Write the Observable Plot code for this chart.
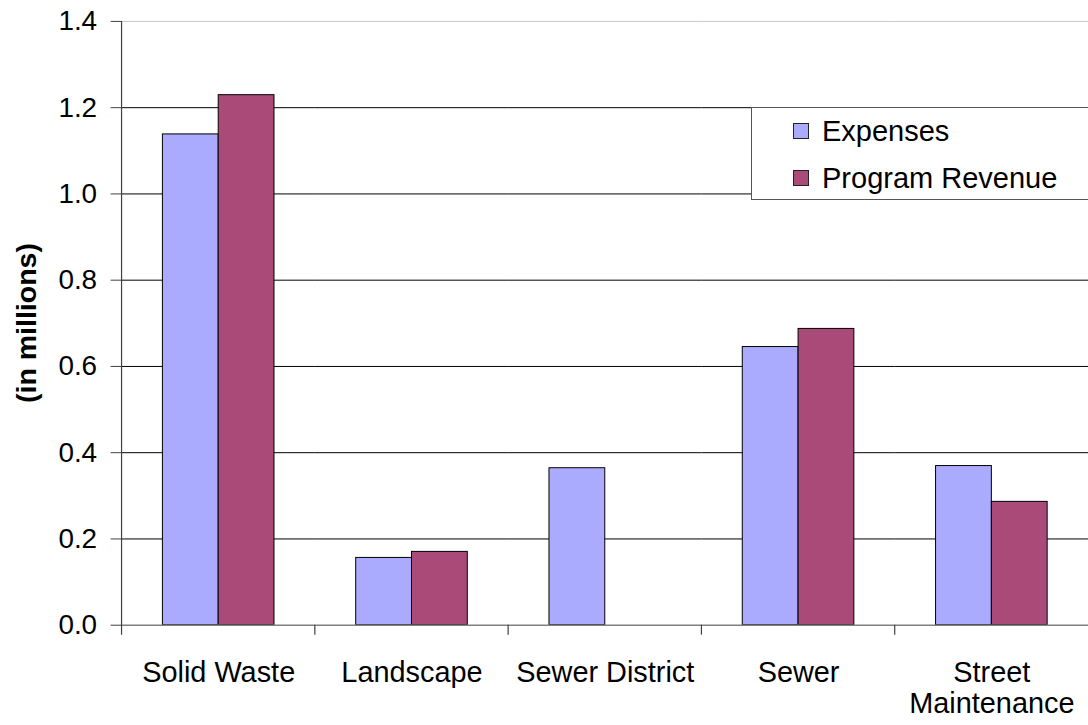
<!DOCTYPE html>
<html>
<head>
<meta charset="utf-8">
<script src="https://cdn.jsdelivr.net/npm/d3@7"></script>
<script src="https://cdn.jsdelivr.net/npm/@observablehq/plot@0.6"></script>
<style>
  html, body { margin: 0; padding: 0; background: #fff; overflow: hidden; }
  #wrap { position: relative; width: 1088px; height: 725px; overflow: hidden; font-family: "Liberation Sans", Arial, sans-serif; }
  #ylabel { position: absolute; left: 26px; top: 323px; transform: translate(-50%, -50%) rotate(-90deg); font-weight: bold; font-size: 28.5px; white-space: nowrap; color: #000; }
  #legend { position: absolute; left: 751px; top: 107px; width: 400px; height: 93px; border: 1px solid #555; background: #fff; box-sizing: border-box; }
  .item { position: absolute; left: 41px; font-size: 29px; line-height: 29px; white-space: nowrap; color: #000; }
  .sw { position: absolute; left: 0; width: 16px; height: 16px; box-sizing: border-box; border: 1px solid #222; }
  .lt { position: absolute; left: 29px; top: 0; }
</style>
</head>
<body>
<div id="wrap">
  <div id="chart"></div>
  <div id="ylabel">(in millions)</div>
  <div id="legend"></div>
</div>
<script>
// ---- data ----
const categories = ["Solid Waste", "Landscape", "Sewer District", "Sewer", "Street Maintenance"];
const xTickLabels = ["Solid Waste", "Landscape", "Sewer District", "Sewer", "Street\nMaintenance"];
const seriesNames = ["Expenses", "Program Revenue"];
const seriesColors = ["#aaaaff", "#aa4a78"];
const expenses = [1.138, 0.156, 0.364, 0.645, 0.369];
const programRevenue = [1.229, 0.170, 0, 0.687, 0.286];
const yTicks = [0, 0.2, 0.4, 0.6, 0.8, 1.0, 1.2, 1.4];
const gridTicks = [0.2, 0.4, 0.6, 0.8, 1.0, 1.2];

// ---- table built from arrays ----
const rows = [];
categories.forEach((c, i) => {
  if (expenses[i] > 0) rows.push({category: c, series: seriesNames[0], value: expenses[i]});
  if (programRevenue[i] > 0) rows.push({category: c, series: seriesNames[1], value: programRevenue[i]});
});

const plot = Plot.plot({
  width: 1092,
  height: 725,
  marginLeft: 122,
  marginRight: 0,
  marginTop: 21,
  marginBottom: 98,
  style: {fontFamily: "'Liberation Sans', Arial, sans-serif", fontSize: "28px", color: "#000", background: "transparent"},
  fx: {domain: categories, paddingInner: 0, paddingOuter: 0, label: null},
  x: {domain: seriesNames, paddingInner: 0, paddingOuter: 0.732, axis: null},
  y: {domain: [0, 1.4], label: null},
  color: {domain: seriesNames, range: seriesColors},
  marks: [
    Plot.ruleY(gridTicks, {stroke: "#000", strokeWidth: 1}),
    Plot.ruleY([1.4], {stroke: "#c8c8c8", strokeWidth: 1}),
    Plot.barY(rows, {fx: "category", x: "series", y: "value", fill: "series", stroke: "#000", strokeWidth: 1}),
    Plot.ruleY([0], {stroke: "#808080", strokeWidth: 1.5}),
    Plot.axisY({ticks: yTicks, tickSize: 11, tickPadding: 14, tickFormat: d3.format(".1f"), fontSize: 28, label: null, stroke: "#404040"}),
    Plot.axisFx({anchor: "bottom", tickSize: 0, tickPadding: 34, fontSize: 29, lineHeight: 1.1, label: null,
      tickFormat: d => xTickLabels[categories.indexOf(d)]})
  ]
});
document.getElementById("chart").appendChild(plot);

// axis line and category boundary ticks, from the plot's own scales
const fxS = plot.scale("fx");
const yS = plot.scale("y");
const band = d3.scaleBand().domain(fxS.domain).range(fxS.range).paddingInner(0).paddingOuter(0);
const y0 = yS.apply(0), yTop = yS.apply(1.4);
const svg = d3.select(plot);
const g = svg.append("g").attr("stroke", "#404040").attr("stroke-width", 1.2);
g.append("line").attr("x1", band(categories[0])).attr("x2", band(categories[0]))
  .attr("y1", yTop).attr("y2", y0 + 10);
categories.slice(1).forEach(c => {
  g.append("line").attr("x1", band(c)).attr("x2", band(c)).attr("y1", y0).attr("y2", y0 + 10);
});

// legend
const legend = document.getElementById("legend");
seriesNames.forEach((s, i) => {
  const it = document.createElement("div");
  it.className = "item";
  it.style.top = (9 + i * 47) + "px";
  const sw = document.createElement("div");
  sw.className = "sw";
  sw.style.background = seriesColors[i];
  sw.style.top = "6px";
  const t = document.createElement("span");
  t.className = "lt";
  t.textContent = s;
  it.appendChild(sw); it.appendChild(t);
  legend.appendChild(it);
});
</script>
</body>
</html>
